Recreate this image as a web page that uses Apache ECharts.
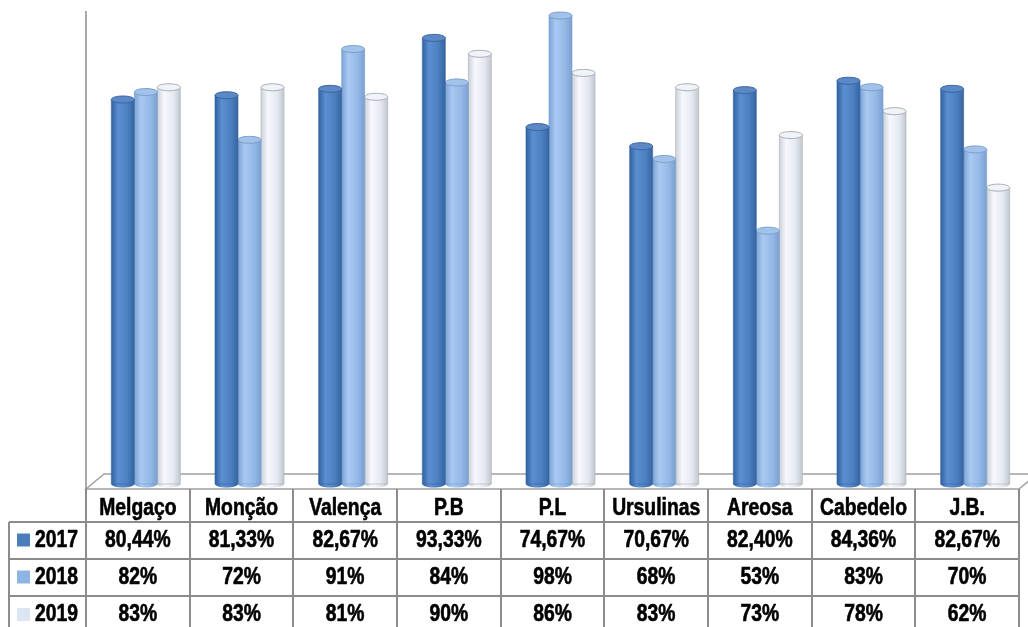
<!DOCTYPE html>
<html>
<head>
<meta charset="utf-8">
<script src="https://cdn.jsdelivr.net/npm/echarts@6/dist/echarts.min.js"></script>
<style>
html,body{margin:0;padding:0;background:#fff;}
#chart{width:1028px;height:627px;}
</style>
</head>
<body>
<div id="chart"></div>
<script>
const categories = ['Melgaço','Monção','Valença','P.B','P.L','Ursulinas','Areosa','Cabedelo','J.B.'];
const years = ['2017','2018','2019'];
const v2017 = [80.44,81.33,82.67,93.33,74.67,70.67,82.40,84.36,82.67];
const v2018 = [82,72,91,84,98,68,53,83,70];
const v2019 = [83,83,81,90,86,83,73,78,62];
const decimals = [2,0,0];
const seriesValues = [v2017, v2018, v2019];

const styles = [
  {body:['#2f5f9e','#5b8fd1','#4c7fc0','#34649f'], cap:'#5d88c6', stroke:'#3a66a3', legend:'#4a7ebb'},
  {body:['#7aa2d6','#a9c9f1','#93b8e6','#7b9fce'], cap:'#a3c2ea', stroke:'#7b9fcf', legend:'#8eb4e3'},
  {body:['#c9cfd8','#f6f8fc','#e4e9f1','#bfc5ce'], cap:'#f0f3f8', stroke:'#a9aeb6', legend:'#dce6f2'}
];

const chart = echarts.init(document.getElementById('chart'));

function makeRender(sIdx){
  const st = styles[sIdx];
  return function(params, api){
    const p = api.coord([api.value(0), api.value(1)]);
    const p0 = api.coord([api.value(0), 0]);
    const band = api.size([1,0])[0];
    const w = band * 0.222;
    const cx = p[0] + (sIdx - 1) * w;
    const x0 = cx - w/2;
    const ry = 3.5;
    const grad = new echarts.graphic.LinearGradient(0,0,1,0,[
      {offset:0,color:st.body[0]},{offset:0.3,color:st.body[1]},
      {offset:0.7,color:st.body[2]},{offset:1,color:st.body[3]}]);
    return {
      type:'group',
      children:[
        {type:'ellipse', shape:{cx:cx, cy:p0[1], rx:w/2, ry:ry}, style:{fill:grad}},
        {type:'rect', shape:{x:x0, y:p[1], width:w, height:p0[1]-p[1]}, style:{fill:grad, stroke:st.stroke, lineWidth:0.6}},
        {type:'ellipse', shape:{cx:cx, cy:p[1], rx:w/2, ry:ry}, style:{fill:st.cap, stroke:st.stroke, lineWidth:1}}
      ]
    };
  };
}

const series = seriesValues.map((vals, i) => ({
  name: years[i],
  type: 'custom',
  renderItem: makeRender(i),
  encode: {x:0, y:1},
  data: vals.map((v, j) => [j, v]),
  z: 10 - i
}));

// Table / floor graphics
const tL = 86, tR = 1019, colW = (tR - tL) / categories.length;
const rowY = [489, 522, 559, 596, 640];
const lineColor = '#8c8c8c';
const font = 'bold 23px "Liberation Sans", Arial, sans-serif';
const sx = 0.84;
const txt = (text, align) => ({text:text, font:font, fill:'#000', stroke:'#000', lineWidth:0.6, align:align, verticalAlign:'middle'});
const g = [];
// floor
g.push({type:'polygon', shape:{points:[[tL,489],[tL+18,474],[tR+18,474],[tR,489]]}, style:{fill:'#fff', stroke:'#a0a0a0', lineWidth:1.5}, z:0});
// vertical axis line
g.push({type:'line', shape:{x1:86,y1:11,x2:86,y2:489}, style:{stroke:'#8c8c8c', lineWidth:1.5}, z:0});
// horizontal lines
for (let r = 1; r <= 3; r++) {
  g.push({type:'line', shape:{x1:9,y1:rowY[r],x2:tR,y2:rowY[r]}, style:{stroke:lineColor,lineWidth:2}, z:20});
}
// vertical lines
for (let i = 0; i <= categories.length; i++) {
  const x = Math.round(tL + i * colW);
  g.push({type:'line', shape:{x1:x,y1:489,x2:x,y2:627}, style:{stroke:lineColor,lineWidth:2}, z:20});
}
g.push({type:'line', shape:{x1:9,y1:rowY[1],x2:9,y2:627}, style:{stroke:lineColor,lineWidth:2}, z:20});
// header text
categories.forEach((c, i) => {
  g.push({type:'text', x: tL + (i + 0.5) * colW, y: (rowY[0] + rowY[1]) / 2 + 3, scaleX: sx,
    style: txt(c, 'center'), z:21});
});
// rows
seriesValues.forEach((vals, r) => {
  const cy = (rowY[r+1] + rowY[r+2]) / 2 + (r === 2 ? -3 : 0);
  g.push({type:'rect', shape:{x:17, y:cy-7, width:13, height:13}, style:{fill:styles[r].legend}, z:21});
  g.push({type:'text', x:35, y:cy, scaleX: sx, style: txt(years[r], 'left'), z:21});
  vals.forEach((v, i) => {
    const t = v.toFixed(decimals[r]).replace('.', ',') + '%';
    g.push({type:'text', x: tL + (i + 0.5) * colW, y: cy, scaleX: sx, style: txt(t, 'center'), z:21});
  });
});

chart.setOption({
  animation:false,
  grid:{left:94, right:1, top:6, bottom:143},
  xAxis:{type:'category', data:categories, show:false, boundaryGap:true},
  yAxis:{type:'value', min:0, max:100, show:false},
  series: series,
  graphic: g
});
</script>
</body>
</html>
